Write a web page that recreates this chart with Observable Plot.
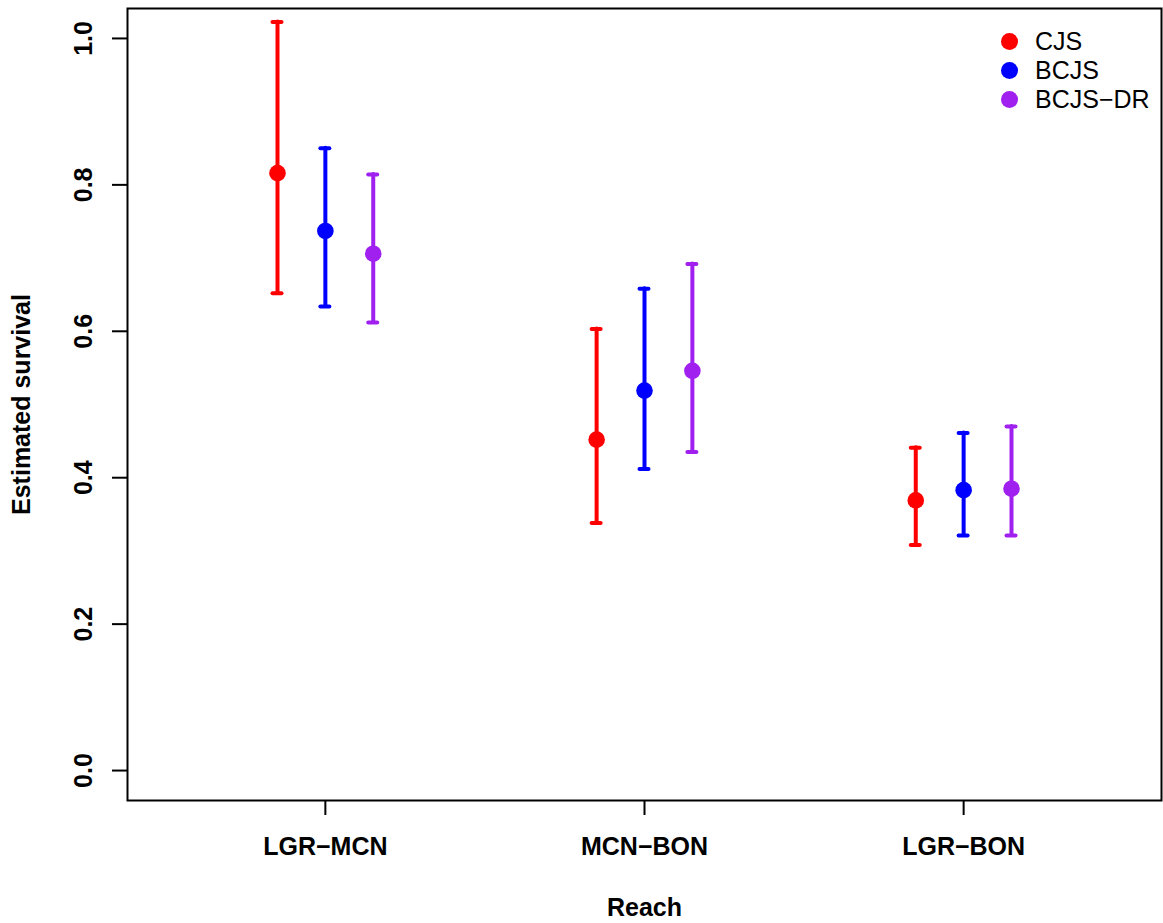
<!DOCTYPE html>
<html>
<head>
<meta charset="utf-8">
<script src="https://cdn.jsdelivr.net/npm/d3@7"></script>
<script src="https://cdn.jsdelivr.net/npm/@observablehq/plot@0.6"></script>
<style>
  html, body { margin: 0; padding: 0; background: #fff; }
  #wrap { position: relative; width: 1163px; height: 923px; }
  #legend { position: absolute; left: 1001px; top: 27px; font-family: "Liberation Sans", Arial, sans-serif; font-size: 25px; color: #000; }
  #legend .row { height: 29px; line-height: 29px; display: flex; align-items: center; }
  #legend .sw { width: 17px; height: 17px; border-radius: 50%; margin-right: 17px; }
</style>
</head>
<body>
<div id="wrap"><div id="legend"></div></div>
<script>
const reaches = ["LGR\u2212MCN", "MCN\u2212BON", "LGR\u2212BON"];
const models = ["CJS", "BCJS", "BCJS\u2212DR"];
const colors = ["#FF0000", "#0000FF", "#A020F0"];
// estimates[model][reach]
const estimates = [
  [0.816, 0.452, 0.369],
  [0.737, 0.519, 0.383],
  [0.706, 0.546, 0.385]
];
const lower = [
  [0.652, 0.338, 0.308],
  [0.634, 0.412, 0.321],
  [0.612, 0.435, 0.321]
];
const upper = [
  [1.0225, 0.603, 0.441],
  [0.850, 0.658, 0.461],
  [0.814, 0.692, 0.470]
];
const yTicks = [0, 0.2, 0.4, 0.6, 0.8, 1.0];
const offsets = [-0.15, 0, 0.15];

const rows = [];
models.forEach((m, i) => reaches.forEach((r, j) => {
  rows.push({model: m, reach: r, pos: j + 1 + offsets[i], est: estimates[i][j], lo: lower[i][j], hi: upper[i][j]});
}));

const chart = Plot.plot({
  width: 1163,
  height: 923,
  marginLeft: 127,
  marginTop: 8,
  marginRight: 2,
  marginBottom: 123,
  style: {fontFamily: "'Liberation Sans', Arial, sans-serif", fontSize: "25px", fontWeight: "bold", background: "#fff", color: "#000"},
  x: {domain: [0.38, 3.62]},
  y: {domain: [-0.0409, 1.0409]},
  color: {domain: models, range: colors},
  marks: [
    Plot.frame({stroke: "#000", strokeWidth: 2}),
    Plot.axisY({ticks: yTicks, tickFormat: d3.format(".1f"), tickSize: 15, tickRotate: -90, tickPadding: 21, strokeWidth: 2,
      label: "Estimated survival", labelAnchor: "center", labelArrow: "none", labelOffset: 115}),
    Plot.axisX({ticks: [1, 2, 3], tickFormat: d => reaches[d - 1], tickSize: 15, tickPadding: 22, strokeWidth: 2,
      label: "Reach", labelAnchor: "center", labelArrow: "none", labelOffset: 115}),
    Plot.ruleX(rows, {x: "pos", y1: "lo", y2: "hi", stroke: "model", strokeWidth: 4, strokeLinecap: "round"}),
    Plot.ruleY(rows, {y: "lo", x1: "pos", x2: "pos", insetLeft: -4.5, insetRight: -4.5, stroke: "model", strokeWidth: 4, strokeLinecap: "round"}),
    Plot.ruleY(rows, {y: "hi", x1: "pos", x2: "pos", insetLeft: -4.5, insetRight: -4.5, stroke: "model", strokeWidth: 4, strokeLinecap: "round"}),
    Plot.dot(rows, {x: "pos", y: "est", fill: "model", r: 8.3})
  ]
});
document.getElementById("wrap").prepend(chart);

const leg = document.getElementById("legend");
models.forEach((m, i) => {
  const row = document.createElement("div");
  row.className = "row";
  const sw = document.createElement("span");
  sw.className = "sw";
  sw.style.background = colors[i];
  const t = document.createElement("span");
  t.textContent = m;
  row.append(sw, t);
  leg.append(row);
});
</script>
</body>
</html>
